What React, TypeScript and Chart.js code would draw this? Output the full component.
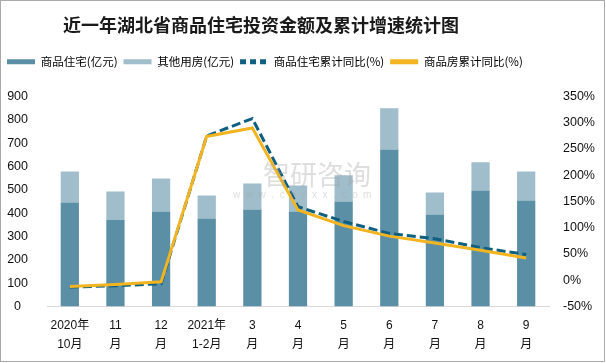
import React, { useEffect, useRef } from 'react';
import { Chart, registerables } from 'chart.js';

Chart.register(...registerables);

const TITLE = '近一年湖北省商品住宅投资金额及累计增速统计图';

const categories: string[][] = [
  ['2020年', '10月'], ['11', '月'], ['12', '月'], ['2021年', '1-2月'], ['3', '月'],
  ['4', '月'], ['5', '月'], ['6', '月'], ['7', '月'], ['8', '月'], ['9', '月'],
];

// 商品住宅投资额 (亿元)
const residentialInvestment = [446, 372, 407, 377, 416, 407, 450, 673, 394, 497, 454];
// 其他用房投资额 (亿元)
const otherInvestment = [133, 121, 142, 99, 111, 112, 112, 177, 95, 121, 125];
// 商品住宅累计同比 (%)
const residentialYoY = [-13, -10.5, -6.6, 275, 308, 140, 112, 89, 79, 62, 49];
// 商品房累计同比 (%)
const totalYoY = [-12, -8, -3, 274, 290, 134, 104, 84, 71, 57, 42.5];

const leftAxisRange = [0, 900, 100];
const rightAxisRange = [-50, 350, 50];

const seriesNames = ['商品住宅(亿元)', '其他用房(亿元)', '商品住宅累计同比(%)', '商品房累计同比(%)'];
const seriesColors = ['#5B8FA6', '#A0BDCB', '#0F5F80', '#F2B421'];

const CJK = '"Noto Sans CJK SC", sans-serif';
const NUM = '"Liberation Sans", "Noto Sans CJK SC", sans-serif';

const titlePlugin = {
  id: 'customTitle',
  afterDraw(chart: any) {
    const ctx = chart.ctx;
    ctx.save();
    ctx.font = 'bold 18px ' + CJK;
    ctx.fillStyle = '#1a1a1a';
    ctx.textAlign = 'center';
    ctx.textBaseline = 'middle';
    ctx.fillText(TITLE, 260, 24);
    ctx.restore();
  },
};

const watermarkPlugin = {
  id: 'watermark',
  afterDatasetsDraw(chart: any) {
    const ctx = chart.ctx;
    ctx.save();
    ctx.fillStyle = 'rgba(160,160,160,0.35)';
    ctx.textAlign = 'left';
    ctx.textBaseline = 'middle';
    ctx.font = '27px ' + CJK;
    ctx.fillText('智研咨询', 262, 174);
    ctx.font = '10px ' + NUM;
    ctx.fillText('w  w  w  .  c  h  y  x  x  .  c  o  m', 232, 194);
    ctx.restore();
  },
};

export default function App() {
  const canvasRef = useRef<HTMLCanvasElement | null>(null);

  useEffect(() => {
    document.body.style.margin = '0';
    const canvas = canvasRef.current;
    if (!canvas) return;

    const chart = new Chart(canvas, {
      type: 'bar',
      data: {
        labels: categories,
        datasets: [
          {
            type: 'line',
            label: seriesNames[3],
            data: totalYoY,
            yAxisID: 'y1',
            borderColor: seriesColors[3],
            backgroundColor: seriesColors[3],
            borderWidth: 3,
            pointRadius: 0,
            tension: 0,
            fill: false,
            order: 0,
          } as any,
          {
            type: 'line',
            label: seriesNames[2],
            data: residentialYoY,
            yAxisID: 'y1',
            borderColor: seriesColors[2],
            backgroundColor: seriesColors[2],
            borderWidth: 3,
            borderDash: [9, 4],
            pointRadius: 0,
            tension: 0,
            fill: false,
            order: 1,
          } as any,
          {
            type: 'bar',
            label: seriesNames[0],
            data: residentialInvestment,
            yAxisID: 'y',
            backgroundColor: seriesColors[0],
            stack: 'inv',
            categoryPercentage: 1,
            barPercentage: 0.4,
            order: 2,
          } as any,
          {
            type: 'bar',
            label: seriesNames[1],
            data: otherInvestment,
            yAxisID: 'y',
            backgroundColor: seriesColors[1],
            stack: 'inv',
            categoryPercentage: 1,
            barPercentage: 0.4,
            order: 2,
          } as any,
        ],
      },
      options: {
        animation: false,
        responsive: true,
        maintainAspectRatio: false,
        layout: { padding: { top: 49, left: 0, right: 0, bottom: 0 } },
        plugins: {
          title: { display: false },
          tooltip: { enabled: false },
          legend: {
            display: true,
            position: 'top',
            align: 'start',
            labels: {
              usePointStyle: true,
              pointStyleWidth: 28,
              boxHeight: 12,
              padding: 6,
              color: '#111',
              font: { size: 11.5, family: CJK },
              generateLabels: () =>
                seriesNames.map((name, i) => ({
                  text: name,
                  fillStyle: seriesColors[i],
                  strokeStyle: seriesColors[i],
                  lineWidth: 5,
                  lineDash: i === 2 ? [6, 4] : [],
                  lineCap: 'butt',
                  pointStyle: 'line',
                  hidden: false,
                  datasetIndex: i,
                })) as any,
            },
          },
        },
        scales: {
          x: {
            stacked: true,
            grid: { display: false, drawTicks: false },
            border: { display: true, color: '#d9d9d9', width: 1 },
            ticks: {
              autoSkip: false,
              maxRotation: 0,
              padding: 10,
              color: '#111',
              font: { size: 12, family: NUM, lineHeight: 1.58 },
            },
            afterFit: (s: any) => { s.height = 54.5; },
          },
          xTop: {
            type: 'category',
            position: 'top',
            display: true,
            grid: { display: false, drawTicks: false },
            border: { display: false },
            ticks: { display: false },
            afterFit: (s: any) => { s.height = 19; },
          } as any,
          y: {
            position: 'left',
            stacked: true,
            min: leftAxisRange[0],
            max: leftAxisRange[1],
            grid: { display: false, drawTicks: false },
            border: { display: false },
            ticks: {
              stepSize: leftAxisRange[2],
              padding: 19,
              crossAlign: 'center',
              color: '#111',
              font: { size: 12.5, family: NUM },
            },
            afterFit: (s: any) => { s.width = 46; },
          },
          y1: {
            position: 'right',
            min: rightAxisRange[0],
            max: rightAxisRange[1],
            grid: { display: false, drawTicks: false },
            border: { display: false },
            ticks: {
              stepSize: rightAxisRange[2],
              padding: 14,
              color: '#111',
              font: { size: 12.5, family: NUM },
              callback: (v: any) => v + '%',
            },
            afterFit: (s: any) => { s.width = 55; },
          },
        },
      } as any,
      plugins: [titlePlugin, watermarkPlugin],
    });

    return () => chart.destroy();
  }, []);

  return (
    <div
      style={{
        width: 605,
        height: 362,
        boxSizing: 'border-box',
        border: '1px solid #aaaaaa',
        position: 'relative',
        background: '#fff',
      }}
    >
      <canvas ref={canvasRef} />
    </div>
  );
}
